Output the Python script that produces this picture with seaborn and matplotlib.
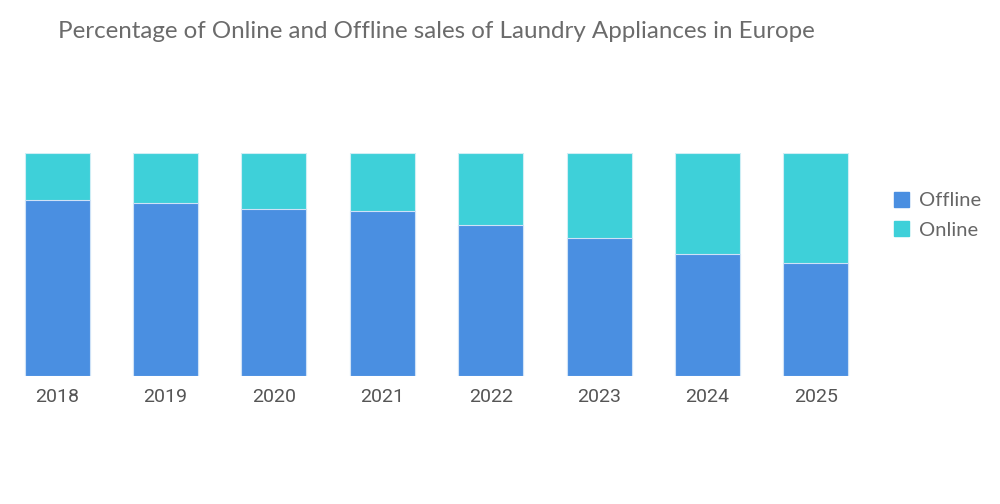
import matplotlib
matplotlib.use("Agg")
import matplotlib.pyplot as plt
import matplotlib.patches as mpatches
import seaborn as sns
import pandas as pd

years = ["2018", "2019", "2020", "2021", "2022", "2023", "2024", "2025"]
offline = [78.9, 77.7, 75.0, 74.0, 67.7, 61.9, 54.9, 50.8]
online = [round(100 - v, 1) for v in offline]

offline_color = "#4A8FE1"
online_color = "#3ED0D9"

df = pd.DataFrame({"year": years, "Offline": offline, "Online": online})
df["total"] = df["Offline"] + df["Online"]

sns.set_style("white")
plt.rcParams["font.family"] = ["Lato", "DejaVu Sans"]

fig = plt.figure(figsize=(10, 5.04), dpi=100)
ax = fig.add_axes([0.003, 0.254, 0.867, 0.442])

sns.barplot(data=df, x="year", y="total", color=online_color, width=0.6,
            edgecolor="#cfeef5", linewidth=0.8, saturation=1, ax=ax)
sns.barplot(data=df, x="year", y="Offline", color=offline_color, width=0.6,
            edgecolor="#cfe2f7", linewidth=0.8, saturation=1, ax=ax)

ax.set_xlim(-0.5, 7.5)
ax.set_ylim(0, 100)
ax.set_xlabel("")
ax.set_ylabel("")
ax.set_yticks([])
ax.set_xticks(range(len(years)))
ax.set_xticklabels(years, fontfamily=["Roboto", "DejaVu Sans"], fontsize=14, color="#555555")
ax.tick_params(axis="x", length=0, pad=9)
sns.despine(ax=ax, left=True, bottom=True)

fig.text(0.058, 0.938, "Percentage of Online and Offline sales of Laundry Appliances in Europe",
         fontsize=17.4, color="#6b6b6b", va="center", ha="left")

handles = [mpatches.Patch(color=offline_color, label="Offline"),
           mpatches.Patch(color=online_color, label="Online")]
fig.legend(handles=handles, loc="center left", bbox_to_anchor=(0.876, 0.573),
           frameon=False, fontsize=14.5, labelcolor="#666666",
           handlelength=0.75, handleheight=0.75, handletextpad=0.5, labelspacing=0.6)

fig.savefig("out.png", dpi=100)
